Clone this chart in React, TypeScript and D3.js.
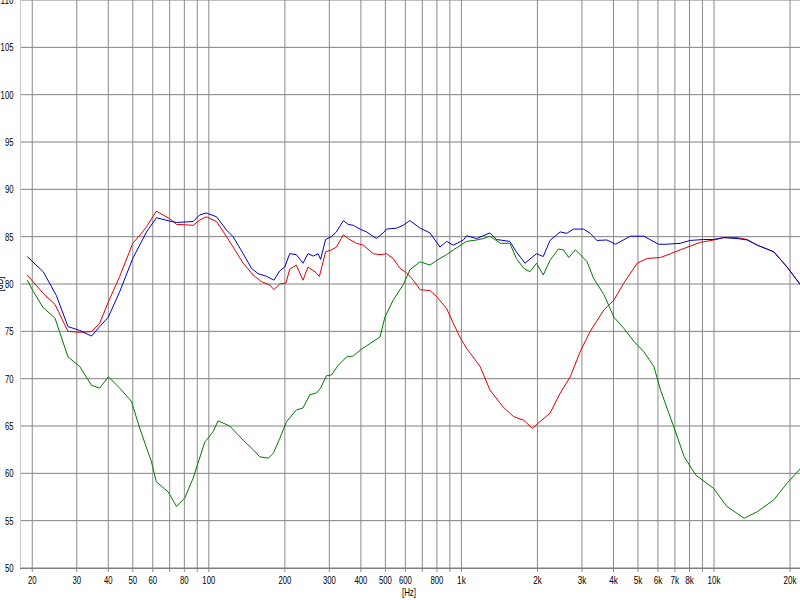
import React from "react";
import * as d3 from "d3";

const xTickValues = [20, 30, 40, 50, 60, 70, 80, 90, 100, 200, 300, 400, 500, 600, 700, 800, 900, 1000, 2000, 3000, 4000, 5000, 6000, 7000, 8000, 9000, 10000, 20000];
const xTickLabels = ["20", "30", "40", "50", "60", "", "80", "", "100", "200", "300", "400", "500", "600", "", "800", "", "1k", "2k", "3k", "4k", "5k", "6k", "7k", "8k", "", "10k", "20k"];
const yTicks = [50, 55, 60, 65, 70, 75, 80, 85, 90, 95, 100, 105, 110];

const blueFreq = [19.1, 22.1, 24.9, 27.7, 30.8, 34.3, 37, 40, 44.4, 50, 56.7, 62, 70, 74.5, 86.7, 92, 97.9, 107.3, 117.5, 124.8, 136.8, 147.6, 156.6, 169.6, 181, 191, 200, 209, 222, 236, 247, 259, 271, 277, 290, 306, 320, 341, 356, 373, 397, 421, 461, 490, 505, 554, 588, 625, 686, 751, 822, 874, 929, 1018, 1048, 1150, 1297, 1378, 1555, 1650, 1785, 1985, 2109, 2243, 2459, 2613, 2778, 3044, 3236, 3437, 3766, 4073, 4667, 5274, 6024, 6496, 7345, 8055, 9094, 9970, 10930, 12350, 13530, 14840, 17250, 19460, 22000];
const blueDb = [82.9, 81.3, 78.8, 75.5, 75.1, 74.5, 75.5, 76.5, 79.2, 82.7, 85.5, 87.0, 86.65, 86.5, 86.6, 87.3, 87.5, 87.1, 85.7, 85.0, 83.2, 81.65, 81.1, 80.8, 80.4, 81.4, 81.8, 83.2, 83.1, 82.2, 83.2, 82.95, 83.2, 82.6, 84.7, 85.0, 85.5, 86.7, 86.3, 86.2, 85.8, 85.5, 84.8, 85.4, 85.8, 85.9, 86.2, 86.7, 85.9, 85.4, 83.9, 84.5, 84.1, 84.65, 85.1, 84.8, 85.4, 84.7, 84.5, 83.4, 82.2, 83.2, 82.9, 84.6, 85.5, 85.35, 85.8, 85.8, 85.35, 84.6, 84.65, 84.2, 85.05, 85.05, 84.2, 84.2, 84.3, 84.6, 84.7, 84.7, 84.9, 84.8, 84.65, 84.1, 83.4, 81.8, 79.9];

const redFreq = [19.1, 22.1, 24.6, 27.7, 30.4, 34.3, 37, 40, 44.4, 50, 54.1, 56.7, 62, 70, 74.5, 86.7, 92, 97.9, 107.3, 117.5, 124.8, 136.8, 149.8, 161.5, 174.4, 181, 191, 202, 209, 222, 236, 247, 266, 274, 290, 306, 320, 341, 356, 384, 409, 448, 476, 505, 537, 571, 606, 645, 686, 751, 799, 874, 929, 986, 1048, 1083, 1185, 1297, 1464, 1608, 1766, 1911, 2044, 2243, 2459, 2698, 2958, 3236, 3662, 4015, 4398, 4965, 5443, 6140, 6730, 7345, 8055, 8830, 9970, 10930, 12350, 13530, 14840, 17250, 19460, 22000];
const redDb = [80.95, 79.0, 77.85, 75.0, 74.9, 74.96, 75.85, 78.1, 80.8, 84.3, 85.35, 86.05, 87.7, 86.9, 86.3, 86.2, 86.75, 87.1, 86.6, 85.0, 83.9, 82.2, 80.95, 80.25, 79.9, 79.4, 80.0, 80.1, 81.55, 82.0, 80.4, 81.8, 81.2, 80.8, 83.4, 83.6, 83.9, 85.2, 84.8, 84.3, 84.1, 83.2, 83.1, 83.2, 82.7, 81.65, 81.2, 80.4, 79.4, 79.3, 78.65, 77.4, 75.85, 74.4, 73.2, 72.7, 71.3, 68.8, 67.0, 66.0, 65.6, 64.75, 65.45, 66.35, 68.45, 70.2, 72.9, 75.0, 77.25, 78.3, 80.1, 82.2, 82.7, 82.8, 83.2, 83.6, 84.0, 84.4, 84.65, 84.9, 84.9, 84.7, 84.1, 83.4, 81.8, 79.9];

const greenFreq = [19.1, 20.2, 22.1, 24.6, 27.7, 30.8, 34.3, 37, 40, 44.4, 49.4, 53.3, 59.3, 62, 69, 74.5, 80.3, 86.7, 96.4, 104, 108.8, 121, 136.8, 149.8, 159, 171.8, 180, 191, 203, 222, 236, 251, 267, 277, 292, 306, 325, 351, 373, 397, 434, 476, 498, 537, 588, 625, 686, 751, 799, 874, 929, 1048, 1150, 1221, 1297, 1428, 1555, 1650, 1766, 1870, 1985, 2109, 2243, 2422, 2535, 2660, 2828, 2958, 3145, 3335, 3662, 4015, 4398, 4832, 5274, 5780, 6140, 6935, 7620, 8480, 9970, 11250, 13170, 14840, 17250, 19460, 22000];
const greenDb = [80.4, 79.2, 77.5, 76.4, 72.3, 71.3, 69.3, 69.0, 70.2, 69.0, 67.6, 64.75, 61.2, 59.1, 58.05, 56.5, 57.4, 59.5, 63.3, 64.4, 65.55, 65.0, 63.5, 62.5, 61.75, 61.6, 62.1, 63.7, 65.45, 66.7, 66.9, 68.3, 68.5, 69.0, 70.3, 70.4, 71.4, 72.3, 72.4, 73.0, 73.7, 74.4, 76.5, 78.3, 79.9, 81.5, 82.35, 82.0, 82.5, 83.1, 83.6, 84.5, 84.65, 84.8, 85.05, 84.3, 84.3, 82.7, 81.65, 81.3, 82.2, 80.95, 82.5, 83.7, 83.6, 82.8, 83.6, 83.1, 82.35, 80.6, 78.9, 76.5, 75.3, 73.9, 72.85, 71.3, 68.8, 64.9, 61.75, 59.8, 58.4, 56.5, 55.25, 55.95, 57.2, 58.95, 60.5];

const series = [
  { name: "green", freq: greenFreq, db: greenDb, color: "#007a00" },
  { name: "red", freq: redFreq, db: redDb, color: "#e00000" },
  { name: "blue", freq: blueFreq, db: blueDb, color: "#0000c8" },
];

export default function App() {
  const W = 800, H = 600;
  const x = d3.scaleLog().domain([18, 22000]).range([20.7, 800.5]);
  const y = d3.scaleLinear().domain([50, 110]).range([568, 0]);
  const line = d3.line<[number, number]>().x((d) => x(d[0])).y((d) => y(d[1]));
  const font = "'Liberation Sans', Arial, sans-serif";
  const len = (s: string) => s.length * 4.3;
  return (
    <svg width={W} height={H} style={{ position: "absolute", left: 0, top: 0, background: "#fff" }}>
      <rect x={0} y={0} width={W} height={H} fill="#fff" />
      {yTicks.map((t) => (
        <line key={"h" + t} x1={20} x2={W} y1={y(t)} y2={y(t)} stroke="#808080" strokeWidth={1} />
      ))}
      {xTickValues.map((t) => (
        <line key={"v" + t} x1={x(t)} x2={x(t)} y1={0} y2={572} stroke="#8a8a8a" strokeWidth={1} />
      ))}
      <line x1={20.5} x2={20.5} y1={0} y2={570} stroke="#c8c8c8" strokeWidth={1} />
      <line x1={20} x2={W} y1={568.5} y2={568.5} stroke="#808080" strokeWidth={1} />
      {yTicks.map((t) => (
        <text key={"yl" + t} x={13.5} y={y(t)} dy="0.36em" textAnchor="end" fontFamily={font} fontSize={11}
          textLength={len(String(t))} lengthAdjust="spacingAndGlyphs" fill="#000">
          {t}
        </text>
      ))}
      {xTickValues.map((t, i) =>
        xTickLabels[i] ? (
          <text key={"xl" + t} x={x(t)} y={584} textAnchor="middle" fontFamily={font} fontSize={11}
            textLength={len(xTickLabels[i])} lengthAdjust="spacingAndGlyphs" fill="#000">
            {xTickLabels[i]}
          </text>
        ) : null
      )}
      <text x={409} y={596} textAnchor="middle" fontFamily={font} fontSize={11}
        textLength={14} lengthAdjust="spacingAndGlyphs" fill="#000">[Hz]</text>
      <text transform="translate(3,284) rotate(-90)" textAnchor="middle" fontFamily={font} fontSize={11}
        textLength={15} lengthAdjust="spacingAndGlyphs" fill="#000">[dB]</text>
      {series.map((s) => (
        <path
          key={s.name}
          d={line(s.freq.map((f, i) => [f, s.db[i]] as [number, number])) || ""}
          fill="none"
          stroke={s.color}
          strokeWidth={1}
        />
      ))}
    </svg>
  );
}
